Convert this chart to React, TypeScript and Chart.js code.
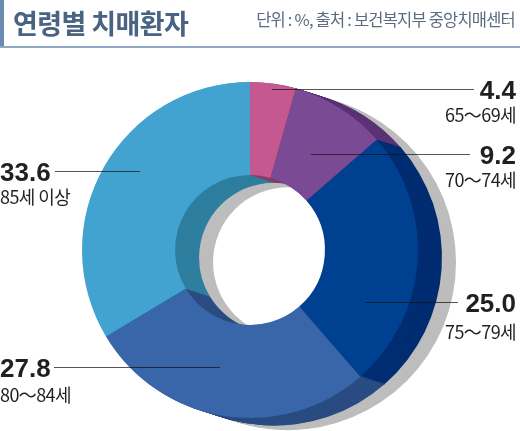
import React, { useEffect, useRef } from "react";
import { Chart, registerables } from "chart.js";

Chart.register(...registerables);

// ---- data ----
const categories = ["65～69세", "70～74세", "75～79세", "80～84세", "85세 이상"];
const values = [4.4, 9.2, 25.0, 27.8, 33.6];
const valueLabels = ["4.4", "9.2", "25.0", "27.8", "33.6"];
const colors = ["#C4588F", "#7A4A94", "#004091", "#3866A8", "#42A2D0"];
const sideColors = ["#8A3A66", "#5A3275", "#002C72", "#2A4C82", "#2E7E9F"];

const titleText = "연령별 치매환자";
const sourceText = "단위 : %, 출처 : 보건복지부 중앙치매센터";

// ---- layout (label placement) ----
type LabelPos = { side: "left" | "right"; x: number; yVal: number; yCat: number; lineFrom: number; lineTo: number };
const labelLayout: LabelPos[] = [
  { side: "right", x: 516, yVal: 90, yCat: 115, lineFrom: 272, lineTo: 474 },
  { side: "right", x: 516, yVal: 155, yCat: 180, lineFrom: 311, lineTo: 470 },
  { side: "right", x: 516, yVal: 303, yCat: 332, lineFrom: 365, lineTo: 458 },
  { side: "left", x: 0, yVal: 368, yCat: 395, lineFrom: 220, lineTo: 54 },
  { side: "left", x: 0, yVal: 172, yCat: 197, lineFrom: 140, lineTo: 55 },
];

const DEPTH = 24;
const SHADOW = 14;
const DIR_Y = 0.32;

const extrudePlugin = {
  id: "extrude",
  beforeDatasetsDraw(chart: any) {
    const ctx = chart.ctx as CanvasRenderingContext2D;
    const meta = chart.getDatasetMeta(0);
    const arcs = meta.data as any[];
    const props = arcs.map((a) =>
      a.getProps(["x", "y", "startAngle", "endAngle", "innerRadius", "outerRadius"], true)
    );
    ctx.save();
    // grey drop shadow
    for (let k = DEPTH + SHADOW; k > DEPTH; k--) {
      const ox = k, oy = k * DIR_Y;
      const p = props[0];
      ctx.beginPath();
      ctx.arc(p.x + ox, p.y + oy, p.outerRadius, 0, Math.PI * 2);
      ctx.arc(p.x + ox, p.y + oy, p.innerRadius, Math.PI * 2, 0, true);
      ctx.closePath();
      ctx.fillStyle = "#BDBDBD";
      ctx.fill("evenodd");
    }
    // coloured side walls
    for (let k = DEPTH; k >= 1; k--) {
      const ox = k, oy = k * DIR_Y;
      props.forEach((p, i) => {
        ctx.beginPath();
        ctx.arc(p.x + ox, p.y + oy, p.outerRadius, p.startAngle - 0.004, p.endAngle + 0.004);
        ctx.arc(p.x + ox, p.y + oy, p.innerRadius, p.endAngle + 0.004, p.startAngle - 0.004, true);
        ctx.closePath();
        ctx.fillStyle = sideColors[i];
        ctx.fill();
      });
    }
    ctx.restore();
  },
  afterDatasetsDraw(chart: any) {
    const ctx = chart.ctx as CanvasRenderingContext2D;
    ctx.save();
    ctx.strokeStyle = "rgba(20,20,20,0.72)";
    ctx.lineWidth = 1.2;
    labelLayout.forEach((l) => {
      ctx.beginPath();
      ctx.moveTo(l.lineFrom, l.yVal - 0.5);
      ctx.lineTo(l.lineTo, l.yVal - 0.5);
      ctx.stroke();
    });
    ctx.restore();
  },
};

export default function App() {
  const canvasRef = useRef<HTMLCanvasElement>(null);

  useEffect(() => {
    if (!canvasRef.current) return;
    const chart = new Chart(canvasRef.current, {
      type: "doughnut",
      data: {
        labels: categories,
        datasets: [
          {
            data: values,
            backgroundColor: colors,
            borderWidth: 0,
          },
        ],
      },
      options: {
        animation: false,
        responsive: false,
        cutout: "44.6%",
        layout: { padding: { left: 82, right: 102, top: 82, bottom: 13 } },
        plugins: {
          legend: { display: false },
          tooltip: { enabled: false },
          title: { display: false },
        },
        events: [],
      },
      plugins: [extrudePlugin],
    });
    return () => chart.destroy();
  }, []);

  const numFont = "'Liberation Sans', Arial, sans-serif";
  const krFont = "'Noto Sans CJK KR', 'Noto Sans', sans-serif";

  return (
    <div style={{ position: "absolute", left: 0, top: 0, width: 520, height: 431, background: "#fff", overflow: "hidden" }}>
      <canvas ref={canvasRef} width={520} height={431} style={{ position: "absolute", left: 0, top: 0 }} />
      {/* header */}
      <div style={{ position: "absolute", left: 0, top: 0, width: 4, height: 47, background: "#6A8BB0" }} />
      <div style={{ position: "absolute", left: 0, top: 46, width: 520, height: 2, background: "#8FA8C4" }} />
      <div
        style={{
          position: "absolute",
          left: 13,
          top: 24 - 27 * 0.56,
          fontFamily: krFont,
          fontWeight: 700,
          fontSize: 27,
          lineHeight: 1,
          letterSpacing: -0.6,
          color: "#4A6382",
          whiteSpace: "nowrap",
        }}
      >
        {titleText}
      </div>
      <div
        style={{
          position: "absolute",
          right: 5,
          top: 20 - 16.5 * 0.56,
          fontFamily: krFont,
          fontSize: 16.5,
          lineHeight: 1,
          letterSpacing: -0.8,
          color: "#5B6B80",
          whiteSpace: "nowrap",
        }}
      >
        {sourceText}
      </div>
      {/* labels */}
      {labelLayout.map((l, i) => {
        const horiz = l.side === "right" ? { right: 520 - l.x } : { left: l.x };
        const align = l.side === "right" ? "right" : "left";
        return (
          <React.Fragment key={i}>
            <div
              style={{
                position: "absolute",
                ...horiz,
                top: l.yVal - 26 * 0.49,
                fontFamily: numFont,
                fontWeight: 700,
                fontSize: 26,
                lineHeight: 1,
                color: "#231F20",
                textAlign: align as any,
                whiteSpace: "nowrap",
              }}
            >
              {valueLabels[i]}
            </div>
            <div
              style={{
                position: "absolute",
                ...horiz,
                top: l.yCat - 18 * 0.56,
                fontFamily: krFont,
                fontSize: 18,
                lineHeight: 1,
                letterSpacing: -0.6,
                color: "#231F20",
                textAlign: align as any,
                whiteSpace: "nowrap",
              }}
            >
              {categories[i]}
            </div>
          </React.Fragment>
        );
      })}
    </div>
  );
}
